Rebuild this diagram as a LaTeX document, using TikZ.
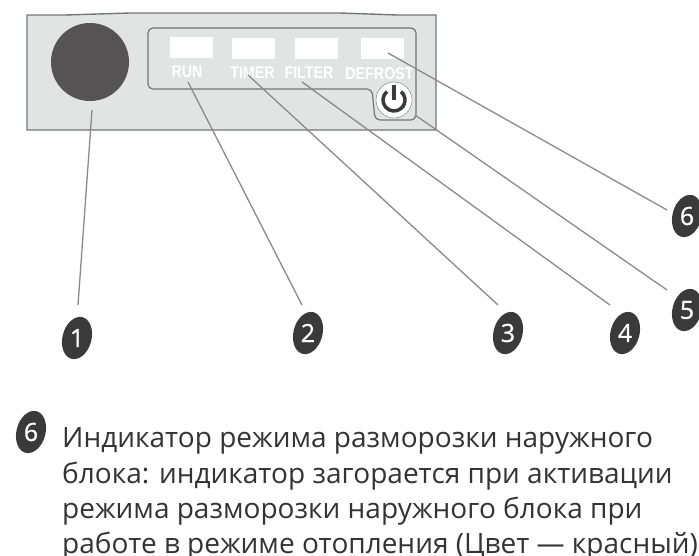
\documentclass[tikz,border=0pt]{standalone}
\usepackage{fontspec}
\setmainfont{Open Sans}
\newfontfamily\ledfont[FakeStretch=0.84]{Liberation Sans}
\newfontfamily\digitfont[FakeBold=0.8]{Open Sans}
\usetikzlibrary{calc,shapes.geometric}
\definecolor{panelfill}{HTML}{E2E3E3}
\definecolor{panelline}{HTML}{747676}
\definecolor{leader}{HTML}{8A8A8A}
\definecolor{badgefill}{HTML}{3A3A3A}
\definecolor{dial}{HTML}{555353}
\definecolor{bodytext}{HTML}{333333}
\tikzset{
  x=1pt,y=-1pt,
  badge/.style={ellipse,fill=badgefill,inner sep=0pt,minimum width=29pt,minimum height=43pt,rotate=-15},
  badgetext/.style={text=white,inner sep=0pt,font=\fontsize{25}{25}\selectfont\digitfont},
  led/.style={fill=white,draw=none,minimum width=43pt,minimum height=21pt,inner sep=0pt},
  ledlabel/.style={text=white,font=\fontsize{17}{17}\selectfont\ledfont\bfseries,inner sep=0pt},
  leaderline/.style={draw=leader,line width=1.3pt},
  bodyline/.style={anchor=base west,text=bodytext,inner sep=0pt,font=\fontsize{28}{32}\selectfont},
}
\begin{document}
\begin{tikzpicture}
\useasboundingbox (0,0) rectangle (699,555);
\draw[fill=panelfill,draw=panelline,line width=1.4pt] (27,15) -- (65,15) -- (130,13) -- (340,13) -- (398,15) -- (436,15) -- (436,130) -- (27,130) -- cycle;
\node[circle,fill=dial,minimum size=78pt,inner sep=0pt] (dial) at (90,62) {};
\draw[draw=panelline,line width=1.2pt,rounded corners=5pt] (148,28) -- (416,28) -- (416,120) -- (375,120) -- (372,89) -- (148,89) -- cycle;
\node[led] (l1) at (191.5,47.5) {};
\node[led] (l2) at (253.5,48) {};
\node[led] (l3) at (316.5,48) {};
\node[led] (l4) at (382,48) {};
\node[ledlabel] (t1) at (187,72) {RUN};
\node[ledlabel] (t2) at (252.5,72.5) {TIMER};
\node[ledlabel] (t3) at (309,72.5) {FILTER};
\node[ledlabel] (t4) at (379.5,73.5) {DEFROST};
\node[circle,fill=white,draw=panelline,minimum size=36pt,inner sep=0pt] (pw) at (394,100) {};
\draw[line width=3.5pt,draw=badgefill] ($(pw.center)+(-7.07,-8.43)$) arc[start angle=130,end angle=410,radius=11pt];
\draw[line width=3.5pt,draw=badgefill] ($(pw.center)+(0,-15)$) -- (pw.center);
\node[badge] (b1) at (77,338) {};\node[badgetext] at (b1) {1};
\node[badge] (b2) at (308,333) {};\node[badgetext] at (b2) {2};
\node[badge] (b3) at (508,333) {};\node[badgetext] at (b3) {3};
\node[badge] (b4) at (625,333) {};\node[badgetext] at (b4) {4};
\node[badge] (b5) at (687,310) {};\node[badgetext] at (b5) {5};
\node[badge] (b6) at (687,216) {};\node[badgetext] at (b6) {6};
\node[badge] (b7) at (31,432) {};\node[badgetext] at (b7) {6};
\coordinate (c1) at (92,110);\coordinate (e1) at (78,305);
\coordinate (c2) at (188,82);\coordinate (e2) at (302,305);
\coordinate (c3) at (248,75);\coordinate (e3) at (498,305);
\coordinate (c4) at (302,82);\coordinate (e4) at (610,305);
\coordinate (c5) at (415,115);\coordinate (e5) at (667,290);
\coordinate (c6) at (388,53);\coordinate (e6) at (667,210);
\foreach \a/\b in {c1/e1,c2/e2,c3/e3,c4/e4,c5/e5,c6/e6}{\draw[leaderline] (\a) -- (\b);}
\node[bodyline] (p1) at (62,447) {Индикатор режима разморозки наружного};
\node[bodyline] (p2) at (62,483) {блока: индикатор загорается при активации};
\node[bodyline] (p3) at (62,518) {режима разморозки наружного блока при};
\node[bodyline] (p4) at (62,553) {работе в режиме отопления (Цвет — красный)};
\end{tikzpicture}
\end{document}
